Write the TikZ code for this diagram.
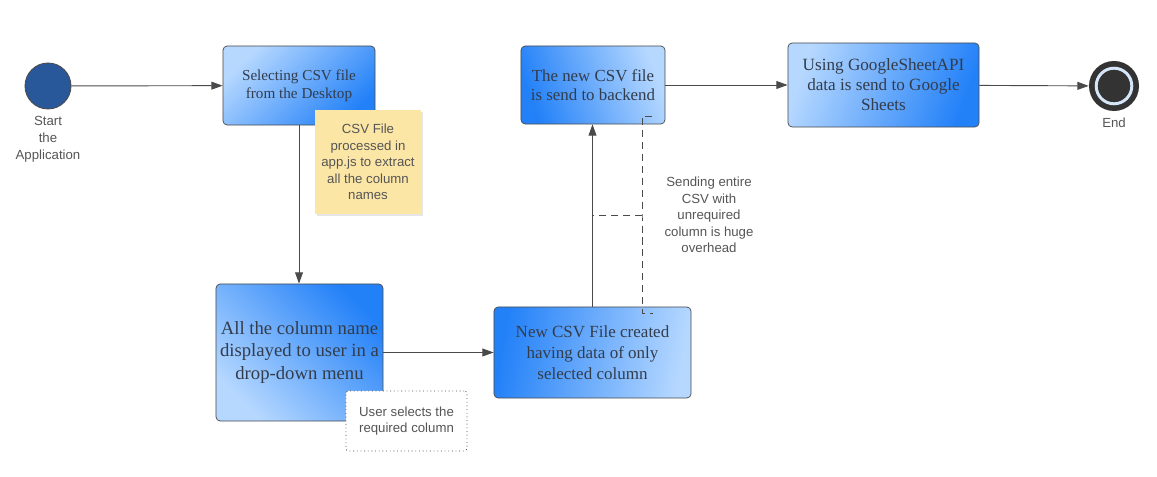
\documentclass[tikz,border=0pt]{standalone}
\usepackage{fontspec}
\setmainfont{Liberation Serif}
\setsansfont{Liberation Sans}
\usetikzlibrary{shapes.geometric, arrows, arrows.meta, shadows}

\definecolor{boxdark}{HTML}{2381F8}
\definecolor{boxlight}{HTML}{B6D8FF}
\definecolor{boxtext}{HTML}{333C4B}
\definecolor{linegray}{HTML}{4A4A4A}
\definecolor{startblue}{HTML}{28579A}
\definecolor{notefill}{HTML}{FCE6A6}
\definecolor{labelgray}{HTML}{555555}
\definecolor{enddark}{HTML}{333333}
\definecolor{endring}{HTML}{D4E6F8}

\begin{document}
\begin{tikzpicture}[x=0.025cm, y=-0.025cm,
    process/.style={rectangle, rounded corners=3pt, draw=linegray, line width=0.5pt,
      align=center, text=boxtext, inner sep=0pt},
    sidetext/.style={align=center, text=labelgray, font=\sffamily\fontsize{9.4}{11.8}\selectfont},
    flow/.style={draw=linegray, line width=0.65pt, -{Triangle[length=8pt, width=5.6pt]}},
    dashline/.style={draw=linegray, line width=0.6pt, dash pattern=on 5pt off 3.5pt}
  ]
  \useasboundingbox (0,0) rectangle (1157,477);

  % start and end
  \node[circle, fill=startblue, draw=linegray, line width=0.6pt, minimum size=1.15cm] (start) at (48,86) {};
  \node[sidetext, font=\sffamily\fontsize{9.4}{12}\selectfont] (startlbl) at (48,139.5) {Start\\the\\Application};
  \node[circle, fill=enddark, minimum size=1.25cm, inner sep=0pt] (end) at (1114,86) {};
  \draw[endring, line width=2.1pt] (end.center) circle (0.445cm);
  \node[sidetext] (endlbl) at (1114,123) {End};

  % steps
  \node[process, minimum width=3.8cm, minimum height=1.975cm,
    top color=boxdark, bottom color=boxlight, shading angle=-135,
    font=\fontsize{10.8}{13}\selectfont] (select) at (299,85.5)
    {Selecting CSV file\\from the Desktop};
  \node[process, minimum width=4.175cm, minimum height=3.425cm,
    top color=boxdark, bottom color=boxlight, shading angle=-45,
    font=\fontsize{13.3}{16}\selectfont] (colmenu) at (299.5,352.5)
    {All the column name\\displayed to user in a\\drop-down menu};
  \node[process, minimum width=4.925cm, minimum height=2.275cm,
    top color=boxdark, bottom color=boxlight, shading angle=80,
    font=\fontsize{12.1}{15}\selectfont] (newcsv) at (592.5,352.5)
    {New CSV File created\\having data of only\\selected column};
  \node[process, minimum width=3.6cm, minimum height=1.95cm,
    top color=boxdark, bottom color=boxlight, shading angle=110,
    font=\fontsize{12}{13.6}\selectfont] (backend) at (593,85)
    {The new CSV file\\is send to backend};
  \node[process, minimum width=4.775cm, minimum height=2.1cm,
    top color=boxdark, bottom color=boxlight, shading angle=-110,
    font=\fontsize{12.2}{14.2}\selectfont] (sheets) at (883.5,85)
    {Using GoogleSheetAPI\\data is send to Google\\Sheets};

  % notes
  \node[rectangle, fill=notefill, minimum width=2.65cm, minimum height=2.6cm,
    drop shadow={opacity=0.2, shadow xshift=1.2pt, shadow yshift=-1.2pt},
    sidetext] (csvnote) at (368,162)
    {CSV File\\processed in\\app.js to extract\\all the column\\names};
  \node[rectangle, rounded corners=2pt, draw=linegray, dotted, line width=0.6pt, fill=white,
    minimum width=3.025cm, minimum height=1.5cm, sidetext] (usernote) at (406.5,421)
    {User selects the\\required column};

  % connectors
  \draw[flow] (start) -- (select);
  \draw[flow] (select.south) -- (select.south |- colmenu.north);
  \draw[flow] (colmenu) -- (newcsv);
  \draw[flow] (newcsv.north) -- (newcsv.north |- backend.south);
  \draw[flow] (backend) -- (sheets);
  \draw[flow] (sheets) -- (end);

  % overhead remark
  \coordinate (bracetop) at (652,116);
  \coordinate (bracemid) at (642,215);
  \coordinate (bracebot) at (653,313);
  \draw[dashline] (bracetop) -| (bracemid) |- (bracebot);
  \draw[dashline] (bracemid) -- (bracemid -| newcsv.north);
  \node[sidetext] (overhead) at (709,215)
    {Sending entire\\CSV with\\unrequired\\column is huge\\overhead};
\end{tikzpicture}
\end{document}
